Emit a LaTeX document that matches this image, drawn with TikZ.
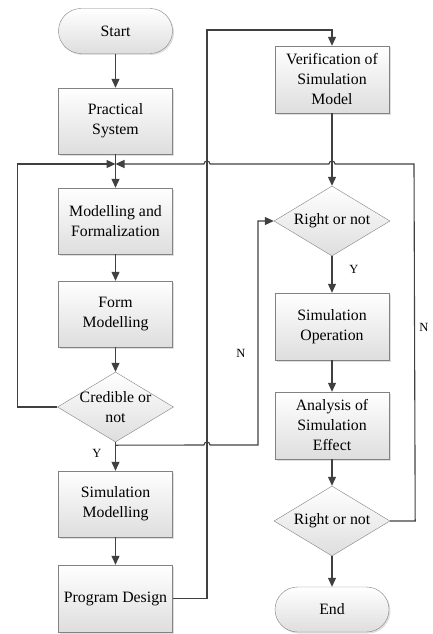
\documentclass[tikz,border=0pt]{standalone}
\usepackage{fontspec}
\setmainfont{Liberation Serif}
\definecolor{mLine}{RGB}{64,64,64}
\definecolor{mEdge}{RGB}{130,130,130}
\usetikzlibrary{arrows.meta,shapes.geometric,shadows}

\begin{document}
\begin{tikzpicture}[x=1pt,y=-1pt,
    font=\fontsize{15.8}{20}\selectfont,
    proc/.style={rectangle, draw=mEdge, top color=white, bottom color=black!13,
      drop shadow={shadow xshift=1.5pt,shadow yshift=-1.5pt,opacity=0.25},
      minimum width=114pt, minimum height=66pt, align=center, inner sep=2pt},
    term/.style={proc, rounded corners=22.5pt, minimum height=45pt},
    dec/.style={diamond, draw=mEdge, top color=white, bottom color=black!13,
      minimum width=116pt, minimum height=70pt, inner sep=0pt},
    flow/.style={draw=mLine, line width=1.1pt, -{Triangle[length=9pt,width=8pt]}},
    tag/.style={font=\fontsize{12.5}{14}\selectfont}]
  \useasboundingbox (0,0) rectangle (432,634);

  % left column
  \node[term] (start) at (115.5,31) {Start};
  \node[proc] (prac) at (115.5,121) {Practical\\System};
  \node[proc] (formal) at (115.5,221) {Modelling and\\Formalization};
  \node[proc] (form) at (115.5,314) {Form\\Modelling};
  \node[dec, label={[align=center]center:Credible or\\not}] (cred) at (115.5,407) {};
  \node[proc] (simmod) at (115.5,504) {Simulation\\Modelling};
  \node[proc, minimum height=67pt] (prog) at (115.5,598.5) {Program Design};

  % right column
  \node[proc, minimum height=67pt] (verif) at (332,79.5) {Verification of\\Simulation\\Model};
  \node[dec, label={center:Right or not}] (right1) at (332,221) {};
  \node[proc, minimum height=67pt] (simop) at (332,326.5) {Simulation\\Operation};
  \node[proc, minimum height=67pt] (anal) at (332,425.5) {Analysis of\\Simulation\\Effect};
  \node[dec, label={center:Right or not}] (right2) at (332,521) {};
  \node[term] (end) at (332,609.5) {End};

  \coordinate (merge) at (115.5,164);

  % main flow
  \draw[flow] (start) -- (prac);
  \draw[flow] (prac) -- (formal);
  \draw[flow] (formal) -- (form);
  \draw[flow] (form) -- (cred);
  \draw[flow] (cred) -- (simmod);
  \draw[flow] (simmod) -- (prog);
  \draw[flow] (verif) -- (right1);
  \draw[flow] (right1) -- (simop);
  \draw[flow] (simop) -- (anal);
  \draw[flow] (anal) -- (right2);
  \draw[flow] (right2) -- (end);

  % loops back
  \draw[flow] (cred.west) -- ++(-39.5,0) |- (merge);
  \draw[flow] (right2.east) -- ++(25,0) -- (414,164) -- (335,164)
    arc[start angle=0,end angle=180,radius=3pt] -- (210,164)
    arc[start angle=0,end angle=180,radius=3pt] -- (merge);
  \draw[flow] (cred.south) ++(0,3) -- (204,445)
    arc[start angle=180,end angle=0,radius=3pt] -- (258,445) |- (right1.west);
  \draw[flow] (prog.east) -- (207,598.5) -- (207,30) -| (verif.north);

  % branch tags
  \node[tag] (y1) at (97,453) {Y};
  \node[tag] (y2) at (354,269) {Y};
  \node[tag] (n1) at (241,353) {N};
  \node[tag] (n2) at (424,327) {N};
\end{tikzpicture}
\end{document}
